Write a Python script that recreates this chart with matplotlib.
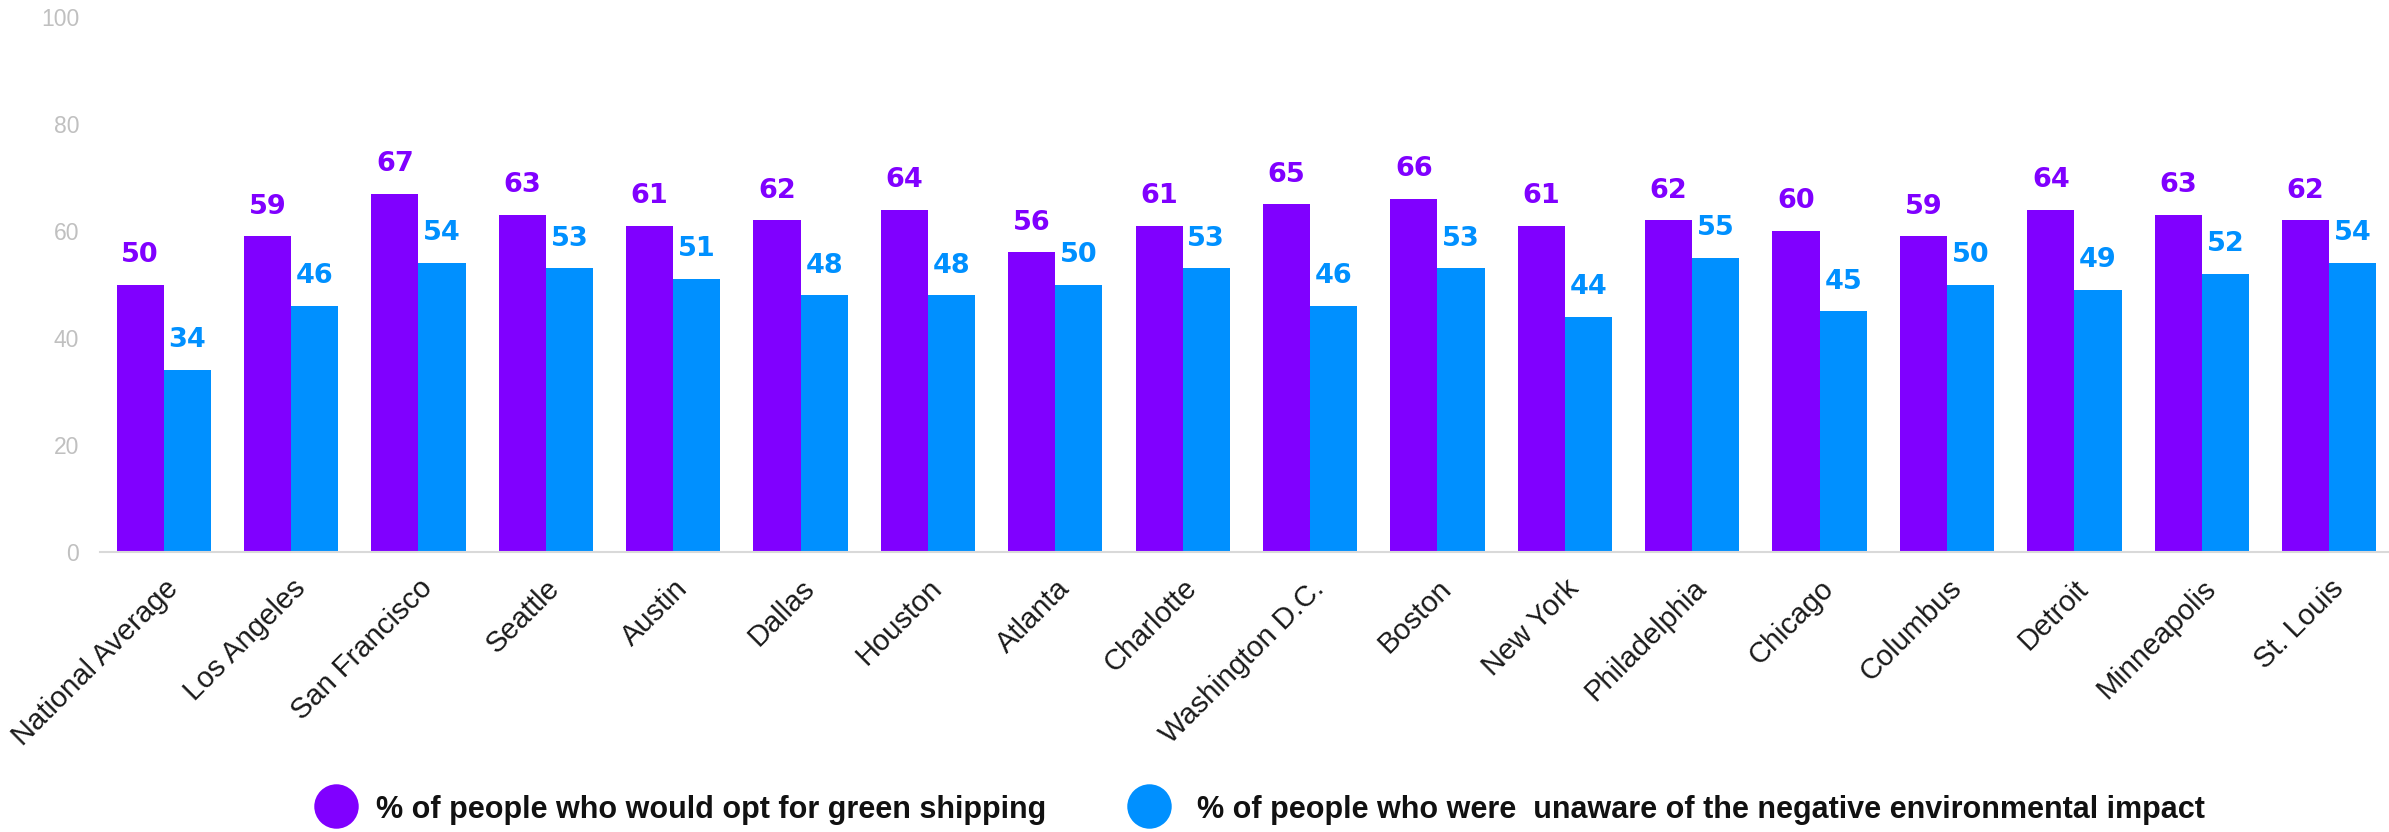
import matplotlib
matplotlib.use("Agg")
import matplotlib.pyplot as plt
import numpy as np
from matplotlib.lines import Line2D

PURPLE = "#8000ff"
BLUE = "#0090ff"
GREY = "#c0c0c0"
AXIS = "#d9d9d9"

cities = ["National Average", "Los Angeles", "San Francisco", "Seattle", "Austin",
          "Dallas", "Houston", "Atlanta", "Charlotte", "Washington D.C.", "Boston",
          "New York", "Philadelphia", "Chicago", "Columbus", "Detroit",
          "Minneapolis", "St. Louis"]
green_shipping = [50, 59, 67, 63, 61, 62, 64, 56, 61, 65, 66, 61, 62, 60, 59, 64, 63, 62]
unaware = [34, 46, 54, 53, 51, 48, 48, 50, 53, 46, 53, 44, 55, 45, 50, 49, 52, 54]

legend_labels = ["% of people who would opt for green shipping",
                 "% of people who were  unaware of the negative environmental impact"]

plt.rcParams["font.family"] = ["Liberation Sans", "DejaVu Sans"]

W, H = 2389, 832
fig = plt.figure(figsize=(W / 100, H / 100), dpi=100)
fig.patch.set_facecolor("white")
ax = fig.add_axes([100 / W, 1 - 552 / H, 1 - 100 / W, (552 - 17) / H])

x = np.arange(len(cities))
bw = 0.37
b1 = ax.bar(x - bw / 2, green_shipping, bw, color=PURPLE, edgecolor="none")
b2 = ax.bar(x + bw / 2, unaware, bw, color=BLUE, edgecolor="none")

for bars, vals, col in ((b1, green_shipping, PURPLE), (b2, unaware, BLUE)):
    for bar, v in zip(bars, vals):
        ax.annotate(f"{v}", (bar.get_x() + bar.get_width() / 2, v),
                    xytext=(0, 12), textcoords="offset points",
                    ha="center", va="bottom", color=col,
                    fontsize=19.5, fontweight="bold", family="DejaVu Sans")

ax.set_xlim(-0.5, 17.47)
ax.set_ylim(0, 100)
ax.set_yticks(range(0, 101, 20))
ax.tick_params(axis="y", length=0, pad=15, labelsize=16.5, labelcolor=GREY)
ax.set_xticks(x)
ax.set_xticklabels(cities, rotation=45, ha="right", va="top",
                   rotation_mode="anchor", fontsize=21, color="#1a1a1a")
ax.tick_params(axis="x", length=0, pad=16)

for s in ("left", "right", "top"):
    ax.spines[s].set_visible(False)
ax.spines["bottom"].set_color(AXIS)
ax.spines["bottom"].set_linewidth(1.5)

# legend drawn by hand along the bottom
items = [(336, 376, PURPLE, legend_labels[0]), (1149, 1197, BLUE, legend_labels[1])]
for cx, tx, col, lab in items:
    fig.add_artist(Line2D([cx / W], [1 - 806 / H], marker="o", markersize=32,
                          color=col, markeredgewidth=0, linestyle="none",
                          transform=fig.transFigure))
    fig.text(tx / W, 1 - 810 / H, lab, ha="left", va="center",
             fontsize=22, fontweight="bold", color="#111111")

fig.savefig("out.png", dpi=100, facecolor="white")
